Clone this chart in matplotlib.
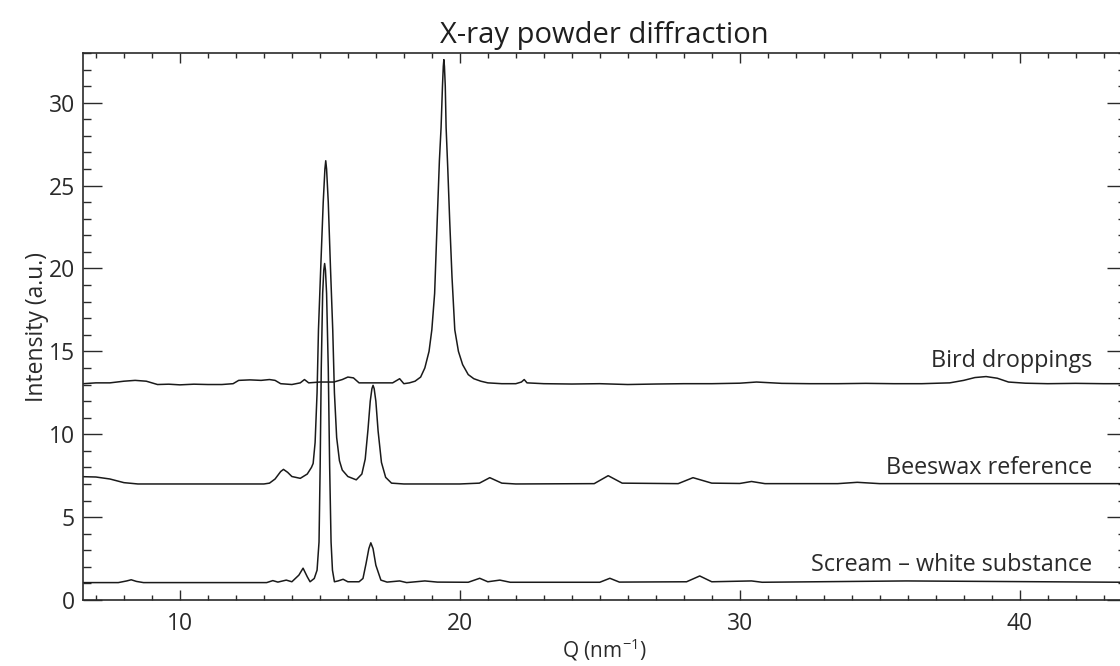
import matplotlib.pyplot as plt
from matplotlib.ticker import MultipleLocator

plt.rcParams["font.family"] = ["Open Sans", "DejaVu Sans"]

# Q (nm^-1) and intensity, one pair of lists per sample
bird_q = [6.55, 7.0, 7.5, 8.0, 8.4, 8.8, 9.2, 9.6, 10.0, 10.5, 11.0, 11.5, 11.9, 12.1,
          12.5, 12.9, 13.2, 13.4, 13.6, 14.0, 14.3, 14.45, 14.6, 15.0, 15.5, 15.8, 16.0,
          16.2, 16.4, 17.0, 17.6, 17.85, 18.0, 18.2, 18.4, 18.6, 18.75, 18.9, 19.0, 19.1,
          19.19, 19.27, 19.33, 19.38, 19.41, 19.43, 19.45, 19.48, 19.51, 19.57, 19.64,
          19.72, 19.82, 19.95, 20.1, 20.3, 20.5, 20.75, 21.0, 21.5, 22.0, 22.2, 22.3,
          22.4, 23.0, 24.0, 25.0, 26.0, 27.0, 28.0, 29.0, 30.0, 30.6, 31.5, 32.5, 33.5,
          34.5, 35.5, 36.5, 37.5, 38.0, 38.4, 38.8, 39.2, 39.6, 40.2, 41.0, 42.0, 43.0,
          43.8]
bird_i = [13.05, 13.1, 13.1, 13.2, 13.25, 13.2, 13.0, 13.02, 12.98, 13.02, 13.0, 13.0,
          13.05, 13.25, 13.28, 13.25, 13.3, 13.25, 13.05, 13.0, 13.1, 13.3, 13.1, 13.15,
          13.15, 13.3, 13.45, 13.4, 13.1, 13.1, 13.1, 13.35, 13.05, 13.1, 13.2, 13.45,
          14.0, 15.0, 16.3, 18.5, 22.8, 26.5, 28.5, 31.0, 32.2, 32.6, 32.2, 31.0, 28.5,
          26.0, 22.8, 19.5, 16.3, 15.0, 14.2, 13.6, 13.35, 13.2, 13.1, 13.05, 13.05,
          13.15, 13.3, 13.1, 13.05, 13.03, 13.05, 13.0, 13.03, 13.05, 13.05, 13.08,
          13.15, 13.07, 13.05, 13.05, 13.07, 13.05, 13.05, 13.1, 13.25, 13.42, 13.48,
          13.38, 13.15, 13.08, 13.05, 13.07, 13.05, 13.05]

wax_q = [6.55, 7.0, 7.5, 8.0, 8.5, 9.0, 13.0, 13.2, 13.4, 13.6, 13.7, 13.85, 14.0, 14.3,
         14.55, 14.7, 14.76, 14.83, 14.9, 14.95, 15.03, 15.12, 15.18, 15.21, 15.24, 15.3,
         15.38, 15.46, 15.52, 15.6, 15.7, 15.8, 16.0, 16.3, 16.5, 16.62, 16.72, 16.8,
         16.86, 16.9, 16.94, 17.0, 17.08, 17.2, 17.35, 17.56, 18.0, 20.0, 20.7, 21.07,
         21.5, 22.0, 24.8, 25.3, 25.8, 27.8, 28.33, 29.0, 30.0, 30.42, 30.9, 33.5, 34.2,
         35.0, 43.8]
wax_i = [7.44, 7.42, 7.3, 7.08, 7.0, 7.0, 7.0, 7.05, 7.3, 7.75, 7.88, 7.7, 7.45, 7.34,
         7.6, 8.0, 8.24, 9.5, 12.5, 16.3, 20.0, 24.0, 26.0, 26.5, 26.0, 24.0, 20.0, 16.3,
         12.5, 9.8, 8.4, 7.84, 7.45, 7.25, 7.6, 8.5, 10.3, 12.0, 12.75, 12.95, 12.75,
         12.0, 10.2, 8.3, 7.4, 7.05, 7.0, 7.0, 7.05, 7.38, 7.05, 7.0, 7.02, 7.5, 7.05,
         7.02, 7.38, 7.05, 7.03, 7.15, 7.02, 7.02, 7.1, 7.02, 7.02]

scream_q = [6.55, 7.8, 8.1, 8.26, 8.45, 8.7, 13.1, 13.32, 13.5, 13.8, 14.0, 14.25, 14.4,
            14.55, 14.65, 14.8, 14.9, 14.97, 15.01, 15.05, 15.1, 15.14, 15.17, 15.2, 15.24,
            15.3, 15.35, 15.4, 15.45, 15.52, 15.65, 15.83, 16.0, 16.4, 16.54, 16.65, 16.75,
            16.82, 16.9, 17.0, 17.18, 17.4, 17.85, 18.1, 18.75, 19.2, 20.3, 20.71, 21.0,
            21.43, 21.8, 25.0, 25.36, 25.7, 28.1, 28.57, 29.0, 30.42, 30.8, 35.95, 43.8]
scream_i = [1.05, 1.05, 1.15, 1.22, 1.12, 1.05, 1.05, 1.17, 1.08, 1.2, 1.1, 1.5, 1.92,
            1.4, 1.1, 1.3, 1.8, 3.5, 8.0, 14.0, 18.5, 19.9, 20.3, 19.9, 18.5, 14.0, 8.0,
            3.5, 1.8, 1.1, 1.15, 1.25, 1.1, 1.1, 1.3, 2.2, 3.1, 3.45, 3.1, 2.1, 1.2, 1.08,
            1.15, 1.05, 1.15, 1.08, 1.07, 1.31, 1.1, 1.2, 1.07, 1.07, 1.31, 1.08, 1.1, 1.45,
            1.1, 1.15, 1.07, 1.15, 1.07]

labels = ["Bird droppings", "Beeswax reference", "Scream \u2013 white substance"]
label_y = [14.4, 7.96, 2.1]

fig = plt.figure(figsize=(11.2, 6.66), dpi=100)
ax = fig.add_axes([0.0744, 0.0991, 0.931, 0.8213])

ink = "#1a1a1a"
for q, i in [(bird_q, bird_i), (wax_q, wax_i), (scream_q, scream_i)]:
    ax.plot(q, i, color=ink, linewidth=1.1)

for text, y in zip(labels, label_y):
    ax.text(42.6, y, text, ha="right", va="center", fontsize=16.8, color="#2a2a2a")

ax.set_xlim(6.55, 43.8)
ax.set_ylim(0, 33)
ax.xaxis.set_major_locator(MultipleLocator(10))
ax.xaxis.set_minor_locator(MultipleLocator(1))
ax.yaxis.set_major_locator(MultipleLocator(5))
ax.yaxis.set_minor_locator(MultipleLocator(1))
ax.tick_params(which="both", direction="in", top=True, right=True, colors="#2a2a2a",
               labelsize=16.5, width=1.0)
ax.tick_params(axis="x", which="major", length=7, pad=9)
ax.tick_params(axis="x", which="minor", length=3.5)
ax.tick_params(axis="y", which="major", length=14, pad=6)
ax.tick_params(axis="y", which="minor", length=6)
for s in ax.spines.values():
    s.set_linewidth(1.2)
    s.set_color("#2a2a2a")

ax.set_title("X-ray powder diffraction", fontsize=21, color="#1f1f1f", pad=7)
ax.set_xlabel(r"Q (nm$^{\mathregular{-1}}$)", fontsize=15, color="#2a2a2a", labelpad=0)
ax.set_ylabel("Intensity (a.u.)", fontsize=16.5, color="#2a2a2a", labelpad=0)

fig.savefig("out.png", dpi=100)
